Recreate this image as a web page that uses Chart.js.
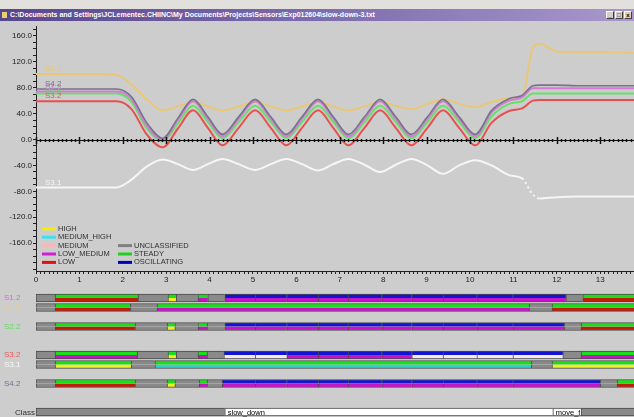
<!DOCTYPE html>
<html>
<head>
<meta charset="utf-8">
<script src="https://cdn.jsdelivr.net/npm/chart.js@4/dist/chart.umd.min.js"></script>
<style>
  html, body { margin: 0; padding: 0; }
  body { width: 634px; height: 417px; overflow: hidden; background: #cdcdcd; position: relative;
         font-family: "Liberation Sans", Arial, sans-serif; }
  #frame { position: absolute; left: 0; top: 0; width: 634px; height: 9px; background: #e2e0dc; }
  #titlebar { position: absolute; left: 0; top: 9px; width: 634px; height: 12px;
              background: linear-gradient(to right, #56468e, #8070b0 55%, #a898cc);
              color: #fff; font-size: 7px; font-weight: bold; line-height: 12px; white-space: nowrap; }
  #titlebar .ico { position: absolute; left: 2px; top: 3px; width: 5px; height: 6px; background: #e8d070; }
  #titlebar .txt { position: absolute; left: 10px; top: 0; }
  .btn { position: absolute; top: 2px; width: 8px; height: 8px; background: #d4d0c8;
         border: 1px solid; border-color: #fff #404040 #404040 #fff; box-sizing: border-box;
         font-size: 6px; line-height: 6px; color: #000; text-align: center; }
  canvas { position: absolute; left: 0; }
  #topChart { top: 21px; }
  #bandChart { top: 290px; }
</style>
</head>
<body>
<div id="frame"></div>
<div id="titlebar">
  <div class="ico"></div>
  <div class="txt">C:\Documents and Settings\JCLementec.CHIINC\My Documents\Projects\Sensors\Exp012604\slow-down-3.txt</div>
  <div class="btn" style="left:606px">_</div>
  <div class="btn" style="left:615px">□</div>
  <div class="btn" style="left:624px">x</div>
</div>
<canvas id="topChart" width="634" height="269"></canvas>
<canvas id="bandChart" width="634" height="127"></canvas>

<script>
/* ------------------------------------------------------------
   Data
   ------------------------------------------------------------ */
const tSec = [0, 0.5, 1.0, 1.5, 1.85, 2.2, 2.55, 2.92, 3.27, 3.62, 3.96, 4.3, 4.67, 5.05, 5.41,
              5.77, 6.13, 6.5, 6.85, 7.2, 7.57, 7.93, 8.29, 8.65, 9.02, 9.38, 9.75, 10.12, 10.5,
              10.9, 11.2, 11.45, 11.6, 12.0, 12.5, 13.0, 13.8];

const s42 = [78, 78, 78, 78, 78, 66, 26, 2, 33, 62, 35, 8, 35, 62, 35, 8, 35, 62, 35, 8, 35, 62, 35,
             8, 35, 62, 35, 8, 45, 63, 68, 83, 84, 84, 83, 83, 83];
const s12 = [74, 74, 74, 74, 74, 62, 21, 0, 30, 59, 32, 5, 32, 59, 32, 5, 32, 59, 32, 5, 32, 59, 32,
             5, 32, 59, 32, 5, 42, 60, 65, 79, 79, 79, 79, 79, 79];
const s22 = [71, 71, 71, 71, 71, 58, 17, -3, 25, 52, 27, 2, 27, 52, 27, 2, 27, 52, 27, 2, 27, 52, 27,
             2, 27, 52, 27, 2, 36, 55, 59, 71, 71, 71, 71, 71, 71];
const s32 = [59, 59, 59, 59, 59, 47, 8, -12, 17, 45, 18, -9, 18, 45, 18, -9, 18, 45, 18, -9, 18, 45, 18,
             -9, 18, 45, 18, -9, 26, 44, 48, 60, 61, 61, 61, 61, 61];
const s11 = [101, 101, 101, 101, 100, 85, 62, 45, 51, 58, 51, 45, 51, 58, 51, 45, 51, 58, 51, 45, 51, 59,
             52, 47, 55, 62, 55, 50, 58, 64, 66, 142, 148, 136, 135, 135, 134];
const s31 = [-74, -74, -74, -74, -74, -62, -42, -31, -38, -47, -38, -30, -38, -47, -38, -30, -38, -48,
             -38, -30, -39, -50, -39, -30, -40, -53, -40, -32, -40, -55, -60, -85, -91, -89, -88, -88, -88];

const yLabelTicks = [-160, -120, -80, -40, 0, 40, 80, 120, 160];
const xLabelTicks = [0, 1, 2, 3, 4, 5, 6, 7, 8, 9, 10, 11, 12, 13];

const levelNames = ['HIGH', 'MEDIUM_HIGH', 'MEDIUM', 'LOW_MEDIUM', 'LOW'];
const motionNames = ['UNCLASSIFIED', 'STEADY', 'OSCILLATING'];

// classification bands: segment bounds (s), motion code (top half), level code (bottom half)
const oscCuts = [5.05, 5.78, 6.5, 7.19, 7.97, 8.66, 9.38, 10.16, 10.99];

const b12Bounds = [0, 0.44, 2.35, 3.04, 3.23, 3.73, 3.96, 4.35, ...oscCuts, 12.21, 12.6, 13.78];
const b12Motion = ['U', 'S', 'U', 'S', 'U', 'S', 'U', 'O', 'O', 'O', 'O', 'O', 'O', 'O', 'O', 'O', 'O', 'U', 'S'];
const b12Level  = ['U', 'L', 'U', 'H', 'U', 'LM', 'U', 'LM', 'LM', 'LM', 'LM', 'LM', 'LM', 'LM', 'LM', 'LM', 'LM', 'U', 'L'];

const b11Bounds = [0, 0.44, 2.17, 2.79, 11.36, 11.89, 13.78];
const b11Motion = ['U', 'S', 'U', 'S', 'U', 'S'];
const b11Level  = ['U', 'L', 'U', 'LM', 'U', 'L'];

const b22Bounds = [0, 0.44, 2.28, 3.02, 3.2, 3.73, 3.94, 4.35, ...oscCuts, 12.17, 12.56, 13.78];
const b22Motion = b12Motion;
const b22Level  = b12Level;

const b32Bounds = [0, 0.44, 2.33, 3.04, 3.23, 3.73, 3.94, 4.33, ...oscCuts, 12.14, 12.56, 13.78];
const b32Motion = ['U', 'S', 'U', 'S', 'U', 'S', 'U', 'O', 'O', 'O', 'O', 'O', 'O', 'O', 'O', 'O', 'O', 'U', 'S'];
const b32Level  = ['U', 'LM', 'U', 'H', 'U', 'LM', 'U', 'M', 'M', 'LM', 'LM', 'LM', 'LM', 'M', 'M', 'M', 'M', 'U', 'LM'];

const b31Bounds = [0, 0.44, 2.19, 2.74, 11.41, 11.89, 13.78];
const b31Motion = ['U', 'S', 'U', 'S', 'U', 'S'];
const b31Level  = ['U', 'H', 'U', 'MH', 'U', 'H'];

const b42Bounds = [0, 0.44, 2.28, 3.02, 3.2, 3.76, 3.94, 4.29, ...oscCuts, 13.0, 13.39, 13.78];
const b42Motion = b12Motion;
const b42Level  = b12Level;

const classBounds = [0, 4.35, 11.91, 12.56, 13.78];
const classLabels = ['', 'slow_down', 'move_forward', ''];

/* ------------------------------------------------------------
   Styles
   ------------------------------------------------------------ */
const FONT = '"Liberation Sans", Arial, sans-serif';
const INK = '#202020';

const levelLegendColors = ['#f0f000', '#40e0f0', '#f8b8b8', '#d020d0', '#e01010'];
const motionLegendColors = ['#808080', '#20d020', '#0000c0'];

const MOTION_FILL = { U: '#8a8a8a', S: '#18e018', O: '#1414d4' };
const LEVEL_FILL = { U: '#8a8a8a', L: '#c01a08', LM: '#c814c8', M: '#f2ecec', MH: '#30d0c8', H: '#eeee20' };

const lineSeries = [
    { label: 'S4.2', values: s42, color: '#74748a', width: 1.6 },
    { label: 'S1.2', values: s12, color: '#d67ad6', width: 2 },
    { label: 'S2.2', values: s22, color: '#66e066', width: 2 },
    { label: 'S3.2', values: s32, color: '#e85050', width: 2 },
    { label: 'S1.1', values: s11, color: '#e8c878', width: 2 },
    { label: 'S3.1', values: s31, color: '#f6f6f6', width: 2 }
];

const bandRows = [
    { label: 'S1.2', color: '#e060e0', slot: 0, bounds: b12Bounds, motion: b12Motion, level: b12Level },
    { label: 'S1.1', color: '#f0cc70', slot: 1, bounds: b11Bounds, motion: b11Motion, level: b11Level },
    { label: 'S2.2', color: '#60dc60', slot: 3, bounds: b22Bounds, motion: b22Motion, level: b22Level },
    { label: 'S3.2', color: '#e85858', slot: 6, bounds: b32Bounds, motion: b32Motion, level: b32Level },
    { label: 'S3.1', color: '#f8f8f8', slot: 7, bounds: b31Bounds, motion: b31Motion, level: b31Level },
    { label: 'S4.2', color: '#707090', slot: 9, bounds: b42Bounds, motion: b42Motion, level: b42Level }
];
const CLASS_SLOT = 12;

/* ------------------------------------------------------------
   Plugins for the top plot
   ------------------------------------------------------------ */
const zeroAxisPlugin = {
    id: 'zeroAxis',
    afterDatasetsDraw(chart) {
        const { ctx, scales: { x, y }, chartArea } = chart;
        const py = Math.round(y.getPixelForValue(0)) + 0.5;
        ctx.save();
        ctx.strokeStyle = '#101010';
        ctx.lineWidth = 1;
        ctx.beginPath();
        ctx.moveTo(chartArea.left, py);
        ctx.lineTo(chartArea.right, py);
        ctx.stroke();
        ctx.lineWidth = 1.5;
        ctx.beginPath();
        for (let i = 0; i <= 138; i++) {
            const px = Math.round(x.getPixelForValue(i / 10)) + 0.5;
            const h = i % 10 === 0 ? 3.5 : 1.5;
            ctx.moveTo(px, py - h);
            ctx.lineTo(px, py + h);
        }
        ctx.stroke();
        ctx.restore();
    }
};

const seriesLabelPlugin = {
    id: 'seriesLabels',
    afterDatasetsDraw(chart) {
        const { ctx, scales: { x, y } } = chart;
        ctx.save();
        ctx.font = '8px ' + FONT;
        ctx.textBaseline = 'bottom';
        lineSeries.slice().reverse().forEach(s => {
            ctx.fillStyle = s.color;
            ctx.fillText(s.label, x.getPixelForValue(0) + 9, y.getPixelForValue(s.values[0]) - 1);
        });
        ctx.restore();
    }
};

const stateLegendPlugin = {
    id: 'stateLegend',
    afterDraw(chart) {
        const { ctx } = chart;
        const top = chart.chartArea.top;
        ctx.save();
        ctx.font = '7.5px ' + FONT;
        ctx.textBaseline = 'middle';
        const rowY = i => top + 202 + i * 8.4;
        levelNames.forEach((name, i) => {
            ctx.fillStyle = levelLegendColors[i];
            ctx.fillRect(42, rowY(i) - 1.5, 14, 3);
            ctx.fillStyle = '#303030';
            ctx.fillText(name, 58, rowY(i));
        });
        motionNames.forEach((name, i) => {
            ctx.fillStyle = motionLegendColors[i];
            ctx.fillRect(118, rowY(i + 2) - 1.5, 14, 3);
            ctx.fillStyle = '#303030';
            ctx.fillText(name, 134, rowY(i + 2));
        });
        ctx.restore();
    }
};

/* ------------------------------------------------------------
   Top plot: sensor traces
   ------------------------------------------------------------ */
function renderTracePlot() {
    const yMinor = [];
    for (let v = -200; v <= 170; v += 10) yMinor.push(v);
    const xMinor = [];
    for (let i = 0; i <= 137; i++) xMinor.push(i / 10);

    new Chart(document.getElementById('topChart'), {
        type: 'line',
        data: {
            datasets: lineSeries.map(s => ({
                label: s.label,
                data: tSec.map((t, i) => ({ x: t, y: s.values[i] })),
                borderColor: s.color,
                borderWidth: s.width,
                pointRadius: 0,
                cubicInterpolationMode: 'monotone',
                segment: s.label === 'S3.1'
                    ? { borderDash: c => (c.p0.parsed.x >= 11.2 && c.p1.parsed.x <= 11.6 ? [2, 3] : undefined) }
                    : undefined
            }))
        },
        options: {
            responsive: false,
            animation: false,
            layout: { padding: { top: 1, right: 0, left: 0, bottom: 0 } },
            plugins: { legend: { display: false }, tooltip: { enabled: false } },
            scales: {
                x: {
                    type: 'linear', min: 0, max: 13.78,
                    afterBuildTicks: s => { s.ticks = xMinor.map(v => ({ value: v })); },
                    afterFit: s => { s.height = 19; },
                    ticks: {
                        autoSkip: false, maxRotation: 0, padding: 1,
                        color: INK, font: { size: 8, family: FONT },
                        callback: v => {
                            const r = Math.round(v);
                            return Math.abs(v - r) < 1e-6 && xLabelTicks.includes(r) ? String(r) : '';
                        }
                    },
                    grid: { drawOnChartArea: false, tickLength: 3, color: INK },
                    border: { color: INK }
                },
                y: {
                    min: -203, max: 174,
                    afterBuildTicks: s => { s.ticks = yMinor.map(v => ({ value: v })); },
                    afterFit: s => { s.width = 36; },
                    ticks: {
                        autoSkip: false, padding: 1,
                        color: INK, font: { size: 8, family: FONT },
                        callback: v => (yLabelTicks.includes(v) ? v.toFixed(1) : '')
                    },
                    grid: { drawOnChartArea: false, tickLength: 3, color: INK },
                    border: { color: INK }
                }
            }
        },
        plugins: [zeroAxisPlugin, seriesLabelPlugin, stateLegendPlugin]
    });
}

/* ------------------------------------------------------------
   Bottom plot: classification bands
   ------------------------------------------------------------ */
const bandLabelPlugin = {
    id: 'bandLabels',
    afterDraw(chart) {
        const { ctx, scales: { x, y } } = chart;
        ctx.save();
        ctx.font = '8px ' + FONT;
        ctx.textBaseline = 'middle';
        bandRows.forEach(r => {
            ctx.fillStyle = r.color;
            ctx.fillText(r.label, 4, y.getPixelForValue(r.slot));
        });
        const cy = y.getPixelForValue(CLASS_SLOT);
        ctx.fillStyle = '#303030';
        ctx.fillText('Class', 15, cy + 1);
        ctx.fillStyle = '#000';
        ctx.font = '7.5px ' + FONT;
        classLabels.forEach((txt, i) => {
            if (!txt) return;
            const a = x.getPixelForValue(classBounds[i]);
            const b = x.getPixelForValue(classBounds[i + 1]);
            ctx.save();
            ctx.beginPath();
            ctx.rect(a, cy - 5, b - a - 1, 10);
            ctx.clip();
            ctx.fillText(txt, a + 3, cy + 1);
            ctx.restore();
        });
        ctx.restore();
    }
};

function bandDatasets(bounds, topCodes, bottomCodes, topFill, bottomFill, slot) {
    const segs = topCodes.map((c, i) => [bounds[i], bounds[i + 1]]);
    const common = {
        grouped: false, barPercentage: 1, categoryPercentage: 1,
        borderSkipped: false, borderColor: '#4a4a4a'
    };
    return [
        Object.assign({}, common, {
            data: segs.map(s => ({ x: s, y: slot - 0.21 })),
            backgroundColor: topCodes.map(c => topFill[c]),
            borderWidth: { top: 1, left: 1, right: 0, bottom: 0 }
        }),
        Object.assign({}, common, {
            data: segs.map(s => ({ x: s, y: slot + 0.21 })),
            backgroundColor: bottomCodes.map(c => bottomFill[c]),
            borderWidth: { top: 0, left: 1, right: 0, bottom: 1 }
        })
    ];
}

function renderBandPlot() {
    const datasets = [];
    bandRows.forEach(r => {
        datasets.push(...bandDatasets(r.bounds, r.motion, r.level, MOTION_FILL, LEVEL_FILL, r.slot));
    });
    const classFill = { '': '#8a8a8a', box: '#ffffff' };
    const classCodes = classLabels.map(t => (t ? 'box' : ''));
    datasets.push(...bandDatasets(classBounds, classCodes, classCodes, classFill, classFill, CLASS_SLOT));

    new Chart(document.getElementById('bandChart'), {
        type: 'bar',
        data: { datasets },
        options: {
            indexAxis: 'y',
            responsive: false,
            animation: false,
            layout: { padding: { left: 36, right: 0, top: 0, bottom: 0 } },
            plugins: { legend: { display: false }, tooltip: { enabled: false } },
            scales: {
                x: { type: 'linear', min: 0, max: 13.78, display: false, offset: false },
                y: { type: 'linear', reverse: true, min: -0.842, max: 12.526, display: false,
                     offset: false, ticks: { stepSize: 1 } }
            }
        },
        plugins: [bandLabelPlugin]
    });
}

document.addEventListener('DOMContentLoaded', () => {
    renderTracePlot();
    renderBandPlot();
});
</script>
</body>
</html>
